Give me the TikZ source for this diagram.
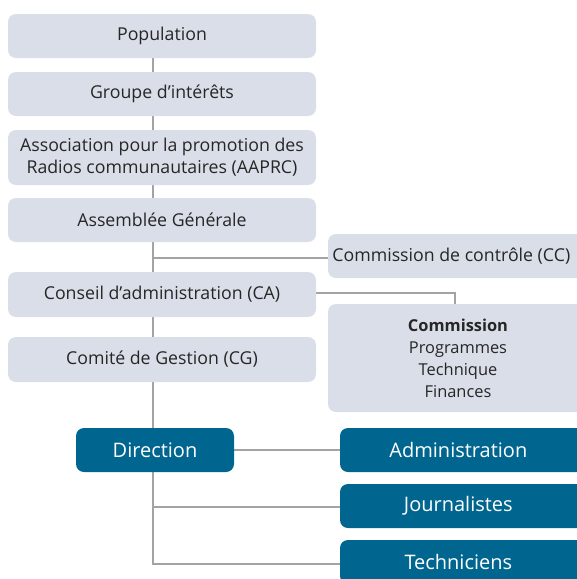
\documentclass[tikz,border=0pt]{standalone}
\usepackage{fontspec}
\setmainfont{Open Sans}
\usepackage{xcolor}
\definecolor{boxgrey}{HTML}{D9DEE8}
\definecolor{boxblue}{HTML}{00668F}
\definecolor{linkgrey}{HTML}{A3A3A3}

\tikzset{
  lightbox/.style={fill=boxgrey, rounded corners=6pt, inner sep=0pt, align=center,
    font=\fontsize{13.3}{16.5}\selectfont, text=black!85},
  darkbox/.style={fill=boxblue, rounded corners=6pt, inner sep=0pt, align=center,
    font=\fontsize{15}{18}\selectfont, text=white},
  link/.style={draw=linkgrey, line width=1.6pt}
}

\begin{document}
\begin{tikzpicture}[x=0.75pt, y=-0.75pt]
        \useasboundingbox (0, 0) rectangle (577, 579);
        \clip (0, 0) rectangle (577, 579);

        % trunk and links first, boxes on top
        \coordinate (TrunkTop) at (153, 36);
        \coordinate (TrunkCG) at (153, 430);
        \coordinate (BendCA) at (455, 293);
        \coordinate (JointCC) at (153, 258);
        \coordinate (JointJ) at (153, 507);
        \coordinate (JointT) at (153, 564);

        \draw[link] (TrunkTop) -- (TrunkCG);
        \draw[link] (JointCC) -- (400, 258);
        \draw[link] (153, 293) -- (BendCA) -- (455, 330);
        \draw[link] (153, 450) -- (460, 450);
        \draw[link] (153, 470) -- (JointT) -- (420, 564);
        \draw[link] (JointJ) -- (420, 507);

        \node[lightbox, minimum width=308*0.75pt, minimum height=44*0.75pt] (Pop) at (162, 36) {Population};
        \node[lightbox, minimum width=308*0.75pt, minimum height=44*0.75pt] (GI) at (162, 94) {Groupe d’intérêts};
        \node[lightbox, minimum width=308*0.75pt, minimum height=55*0.75pt] (AAPRC) at (162, 157.5) {Association pour la promotion des\\Radios communautaires (AAPRC)};
        \node[lightbox, minimum width=308*0.75pt, minimum height=44*0.75pt] (AG) at (162, 220) {Assemblée Générale};
        \node[lightbox, minimum width=260*0.75pt, minimum height=44*0.75pt] (CC) at (458, 256) {\hspace*{-10pt}Commission de contrôle (CC)};
        \node[lightbox, minimum width=308*0.75pt, minimum height=45*0.75pt] (CA) at (162, 294.5) {Conseil d’administration (CA)};
        \node[lightbox, minimum width=260*0.75pt, minimum height=108*0.75pt, font=\fontsize{12.3}{16.5}\selectfont] (Com) at (458, 358) {\textbf{Commission}\\Programmes\\Technique\\Finances};
        \node[lightbox, minimum width=308*0.75pt, minimum height=45*0.75pt] (CG) at (162, 359.5) {Comité de Gestion (CG)};

        \node[darkbox, minimum width=158*0.75pt, minimum height=44*0.75pt] (Dir) at (155, 450) {Direction};
        \node[darkbox, minimum width=250*0.75pt, minimum height=44*0.75pt] (Adm) at (465, 450) {\hspace*{-10pt}Administration};
        \node[darkbox, minimum width=250*0.75pt, minimum height=44*0.75pt] (Jour) at (465, 506) {\hspace*{-10pt}Journalistes};
        \node[darkbox, minimum width=250*0.75pt, minimum height=44*0.75pt] (Tech) at (465, 562) {\hspace*{-10pt}Techniciens};

\end{tikzpicture}
\end{document}
